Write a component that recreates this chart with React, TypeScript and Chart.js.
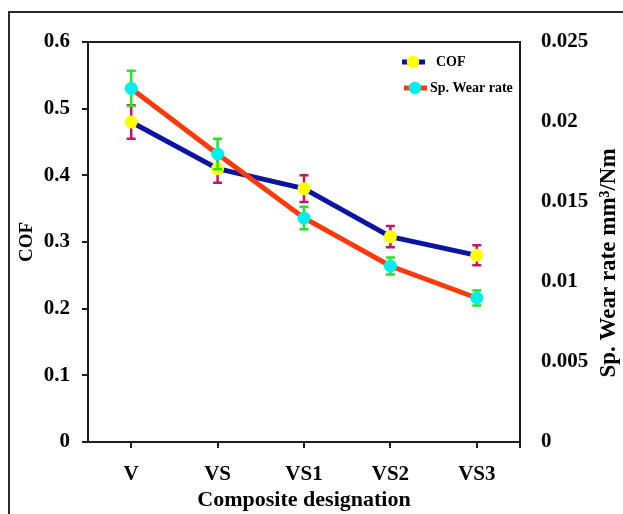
import React, { useEffect, useRef } from 'react';
import { Chart, registerables } from 'chart.js';

Chart.register(...registerables);

const categories = ['V', 'VS', 'VS1', 'VS2', 'VS3'];
const cofValues = [0.48, 0.41, 0.38, 0.308, 0.28];
const cofErrors = [0.025, 0.021, 0.02, 0.016, 0.015];
const wearValues = [0.0221, 0.018, 0.014, 0.011, 0.009];
const wearErrors = [0.0011, 0.00095, 0.0007, 0.00053, 0.00047];
const cofAxis = { min: 0, max: 0.6, step: 0.1 };
const wearAxis = { min: 0, max: 0.025, step: 0.005 };
const seriesNames = ['COF', 'Sp. Wear rate'];
const axisTitles = { x: 'Composite designation', y: 'COF', y1: 'Sp. Wear rate mm\u00b3/Nm' };

const SERIF = '"Liberation Serif", "Times New Roman", serif';
const DARK = '#1e1e1e';

const fmt = (v: number) => String(Number(Number(v).toFixed(4)));

const errorBarPlugin = {
  id: 'errorBars',
  beforeDatasetDraw(chart: any, args: any) {
    const ds = chart.data.datasets[args.index];
    if (!ds.errors) return;
    const ctx = chart.ctx;
    const yScale = chart.scales[ds.yAxisID];
    ctx.save();
    ctx.strokeStyle = ds.errorColor;
    ctx.lineWidth = 2.5;
    args.meta.data.forEach((pt: any, i: number) => {
      const v = ds.data[i];
      const e = ds.errors[i];
      const x = pt.x;
      const yt = yScale.getPixelForValue(v + e);
      const yb = yScale.getPixelForValue(v - e);
      ctx.beginPath();
      ctx.moveTo(x, yt);
      ctx.lineTo(x, yb);
      ctx.moveTo(x - 4.5, yt);
      ctx.lineTo(x + 4.5, yt);
      ctx.moveTo(x - 4.5, yb);
      ctx.lineTo(x + 4.5, yb);
      ctx.stroke();
    });
    ctx.restore();
  },
};

const decorPlugin = {
  id: 'decor',
  beforeDraw(chart: any) {
    const { ctx, width, height } = chart;
    ctx.save();
    ctx.fillStyle = '#ffffff';
    ctx.fillRect(0, 0, width, height);
    ctx.strokeStyle = '#2a2a2a';
    ctx.lineWidth = 2;
    ctx.beginPath();
    ctx.moveTo(9, height + 2);
    ctx.lineTo(9, 12);
    ctx.lineTo(width + 2, 12);
    ctx.stroke();
    ctx.restore();
  },
  afterDraw(chart: any) {
    const { ctx, chartArea } = chart;
    const { left, right, top, bottom } = chartArea;
    ctx.save();
    // plot top border + right edge tick
    ctx.strokeStyle = DARK;
    ctx.lineWidth = 2;
    ctx.beginPath();
    ctx.moveTo(left, top);
    ctx.lineTo(right, top);
    ctx.moveTo(right, bottom);
    ctx.lineTo(right, bottom + 6);
    ctx.stroke();

    // legend
    const ds = chart.data.datasets;
    const items = [
      { d: ds[0], x: right - 107, y: top + 20, tx: right - 84 },
      { d: ds[1], x: right - 105, y: top + 46, tx: right - 90 },
    ];
    items.forEach((it) => {
      ctx.strokeStyle = it.d.borderColor;
      ctx.lineWidth = 5;
      ctx.beginPath();
      ctx.moveTo(it.x - 11, it.y);
      ctx.lineTo(it.x + 12, it.y);
      ctx.stroke();
      ctx.fillStyle = it.d.pointBackgroundColor;
      ctx.beginPath();
      ctx.arc(it.x, it.y, 6.2, 0, Math.PI * 2);
      ctx.fill();
      ctx.fillStyle = '#000';
      ctx.font = `bold 14px ${SERIF}`;
      ctx.textAlign = 'left';
      ctx.textBaseline = 'middle';
      ctx.fillText(it.d.label, it.tx, it.y);
    });

    // right axis title (reads bottom-to-top)
    ctx.translate(609, 263);
    ctx.rotate(-Math.PI / 2);
    ctx.fillStyle = '#000';
    ctx.font = `bold 23px ${SERIF}`;
    ctx.textAlign = 'center';
    ctx.textBaseline = 'middle';
    ctx.fillText(axisTitles.y1, 0, 0);
    ctx.restore();
  },
};

export default function App() {
  const ref = useRef<HTMLCanvasElement | null>(null);

  useEffect(() => {
    if (!ref.current) return;
    const tickFont = { family: SERIF, size: 21, weight: 'bold' as const };
    const chart = new Chart(ref.current, {
      type: 'line',
      data: {
        labels: categories,
        datasets: [
          {
            label: seriesNames[0],
            data: cofValues,
            yAxisID: 'y',
            borderColor: '#0a14a2',
            borderWidth: 5,
            pointRadius: 6.5,
            pointBorderWidth: 0,
            pointBackgroundColor: '#ffff00',
            pointBorderColor: '#ffff00',
            tension: 0,
            order: 1,
            errors: cofErrors,
            errorColor: '#c81464',
          } as any,
          {
            label: seriesNames[1],
            data: wearValues,
            yAxisID: 'y1',
            borderColor: '#ff3a0a',
            borderWidth: 5,
            pointRadius: 6.5,
            pointBorderWidth: 0,
            pointBackgroundColor: '#00f0f0',
            pointBorderColor: '#00f0f0',
            tension: 0,
            order: 0,
            errors: wearErrors,
            errorColor: '#22e622',
          } as any,
        ],
      },
      options: {
        responsive: false,
        animation: false,
        devicePixelRatio: 1,
        layout: { padding: { top: 42, left: 0, right: 0, bottom: 0 } },
        plugins: { legend: { display: false }, tooltip: { enabled: false } },
        scales: {
          x: {
            type: 'category',
            offset: true,
            grid: { offset: false, drawOnChartArea: false, drawTicks: true, tickLength: 6, color: DARK, lineWidth: 2 },
            border: { display: true, color: DARK, width: 2 },
            ticks: { color: '#000', font: tickFont, padding: 14, maxRotation: 0 },
            title: { display: true, text: axisTitles.x, color: '#000', font: { family: SERIF, size: 22, weight: 'bold' }, padding: { top: 0, bottom: 0 } },
            afterFit: (s: any) => { s.height = 72; },
          },
          y: {
            type: 'linear',
            position: 'left',
            min: cofAxis.min,
            max: cofAxis.max,
            ticks: { stepSize: cofAxis.step, color: '#000', font: tickFont, padding: 12, callback: (v: any) => fmt(v) },
            grid: { drawOnChartArea: false, drawTicks: true, tickLength: 6, color: DARK, lineWidth: 2 },
            border: { display: true, color: DARK, width: 2 },
            title: { display: true, text: axisTitles.y, color: '#000', font: { family: SERIF, size: 19, weight: 'bold' }, padding: { top: 16, bottom: 0 } },
            afterFit: (s: any) => { s.width = 88; },
          },
          y1: {
            type: 'linear',
            position: 'right',
            min: wearAxis.min,
            max: wearAxis.max,
            ticks: { stepSize: wearAxis.step, color: '#000', font: tickFont, padding: 21, callback: (v: any) => fmt(v) },
            grid: { display: false, drawOnChartArea: false, drawTicks: false },
            border: { display: true, color: DARK, width: 2 },
            afterFit: (s: any) => { s.width = 103; },
          },
        },
      } as any,
      plugins: [errorBarPlugin, decorPlugin],
    });
    return () => chart.destroy();
  }, []);

  return (
    <div style={{ position: 'absolute', left: 0, top: 0, width: 623, height: 514 }}>
      <canvas ref={ref} width={623} height={514} style={{ display: 'block', width: 623, height: 514 }} />
    </div>
  );
}
